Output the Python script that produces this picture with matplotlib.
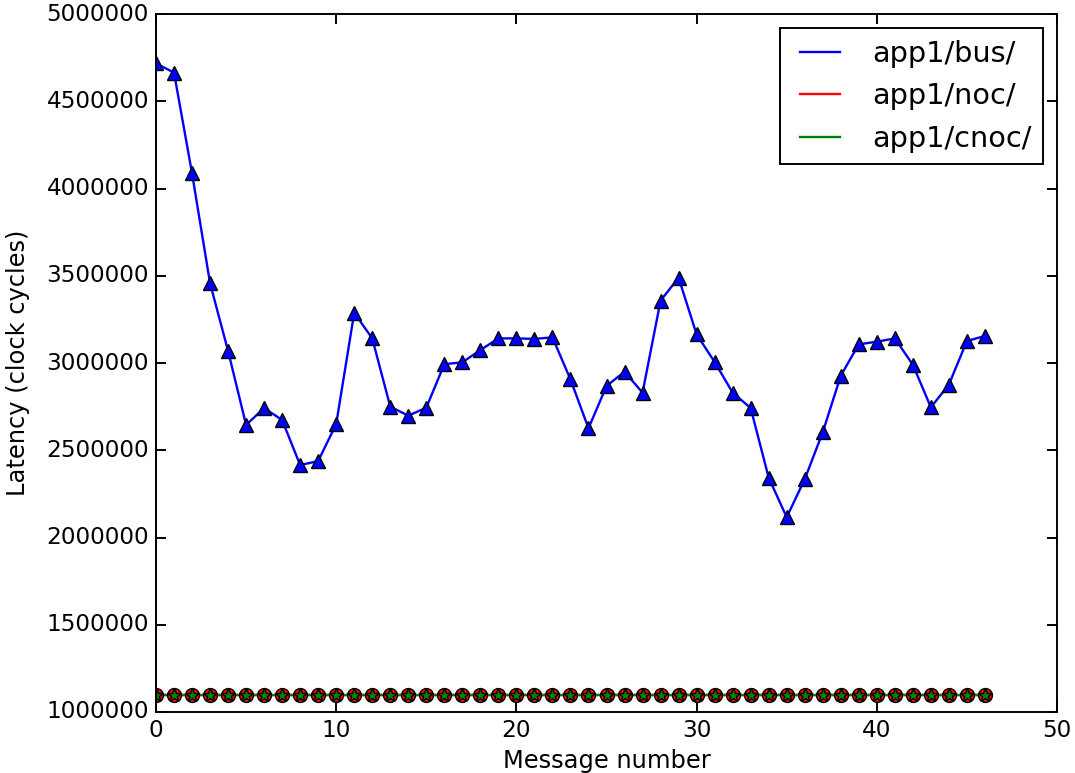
import matplotlib
matplotlib.use("Agg")
import matplotlib.pyplot as plt

plt.style.use("classic")

msg = list(range(47))
bus = [4717000, 4664000, 4087000, 3457000, 3069000, 2645000, 2742000, 2673000, 2415000, 2438000,
       2650000, 3288000, 3141000, 2750000, 2698000, 2744000, 2993000, 3004000, 3074000, 3141000,
       3141000, 3138000, 3147000, 2906000, 2626000, 2868000, 2950000, 2830000, 3357000, 3489000,
       3164000, 3006000, 2830000, 2742000, 2343000, 2116000, 2334000, 2603000, 2927000, 3107000,
       3122000, 3141000, 2990000, 2746000, 2876000, 3126000, 3155000]
noc = [1100000] * 47
cnoc = [1100000] * 47

labels = ["app1/bus/", "app1/noc/", "app1/cnoc/"]
xticks = [0, 10, 20, 30, 40, 50]
yticks = [1000000, 1500000, 2000000, 2500000, 3000000, 3500000, 4000000, 4500000, 5000000]

k = 1.389
fig = plt.figure(figsize=(10.75, 7.73), dpi=100, facecolor="white")
ax = fig.add_axes([156/1075, 61/773, (1057-156)/1075, (712-14)/773])

ax.plot(msg, bus, color="b", lw=1.7, label=labels[0])
ax.plot(msg, noc, color="r", lw=1.7, label=labels[1])
ax.plot(msg, cnoc, color="g", lw=1.7, label=labels[2])
ax.plot(msg, bus, ls="none", marker="^", ms=10.5, mfc="b", mec="k", mew=1.0)
ax.plot(msg, noc, ls="none", marker="o", ms=10, mfc="r", mec="k", mew=1.0)
ax.plot(msg, cnoc, ls="none", marker="*", ms=10, mfc="g", mec="k", mew=1.0)

ax.set_xlim(0, 50)
ax.set_ylim(1000000, 5000000)
ax.set_xticks(xticks)
ax.set_yticks(yticks)
ax.ticklabel_format(style="plain", useOffset=False, axis="y")
ax.tick_params(labelsize=12*k, length=7, width=1.0*k, pad=5)
ax.tick_params(which="minor", length=3.5)
for s in ax.spines.values():
    s.set_linewidth(1.0*k)
ax.set_xlabel("Message number", fontsize=17.4)
ax.set_ylabel("Latency (clock cycles)", fontsize=17.4, labelpad=12)

leg = ax.legend(loc="upper right", fontsize=20.7, numpoints=2, handlelength=2)
leg.get_frame().set_linewidth(1.0*k)

fig.savefig("out.png", dpi=100, facecolor="white")
